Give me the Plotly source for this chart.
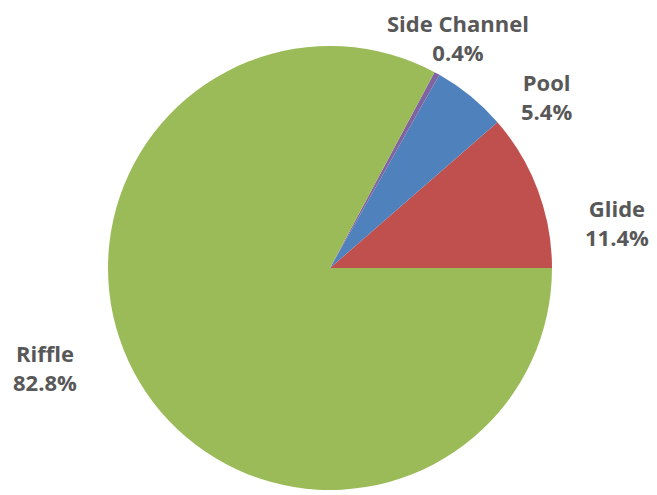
import plotly.graph_objects as go

categories = ["Glide", "Pool", "Side Channel", "Riffle"]
values = [11.4, 5.4, 0.4, 82.8]
colors = ["#C0504D", "#4F81BD", "#8064A2", "#9BBB59"]

# label anchor positions (pixels, page coords) for the outside labels
label_x = [617, 546, 458, 45]
label_y = [223, 96, 37, 367]

OFF = 8  # browser body margin
W, H = 657 - OFF, 495 - OFF
cx, cy, r = 330 - OFF, 268 - OFF, 222

total = sum(values)
rotation = 90 - 360 * values[0] / total

fig = go.Figure(go.Pie(
    labels=categories, values=values, sort=False, direction="counterclockwise",
    rotation=rotation, marker=dict(colors=colors, line=dict(width=0)),
    textinfo="none", hoverinfo="label+percent", showlegend=False,
    domain=dict(x=[(cx - r) / W, (cx + r) / W], y=[1 - (cy + r) / H, 1 - (cy - r) / H]),
))

for cat, v, lx, ly in zip(categories, values, label_x, label_y):
    fig.add_annotation(
        x=(lx - OFF) / W, y=1 - (ly - OFF) / H, xref="paper", yref="paper", showarrow=False,
        text=f"<b>{cat}<br>{v / total * 100:.1f}%</b>",
        font=dict(family="Open Sans", size=22, color="#585858"),
        xanchor="center", yanchor="middle", align="center",
    )

fig.update_layout(width=W, height=H, margin=dict(l=0, r=0, t=0, b=0),
                  paper_bgcolor="white", plot_bgcolor="white")
fig.write_html("out.html")
